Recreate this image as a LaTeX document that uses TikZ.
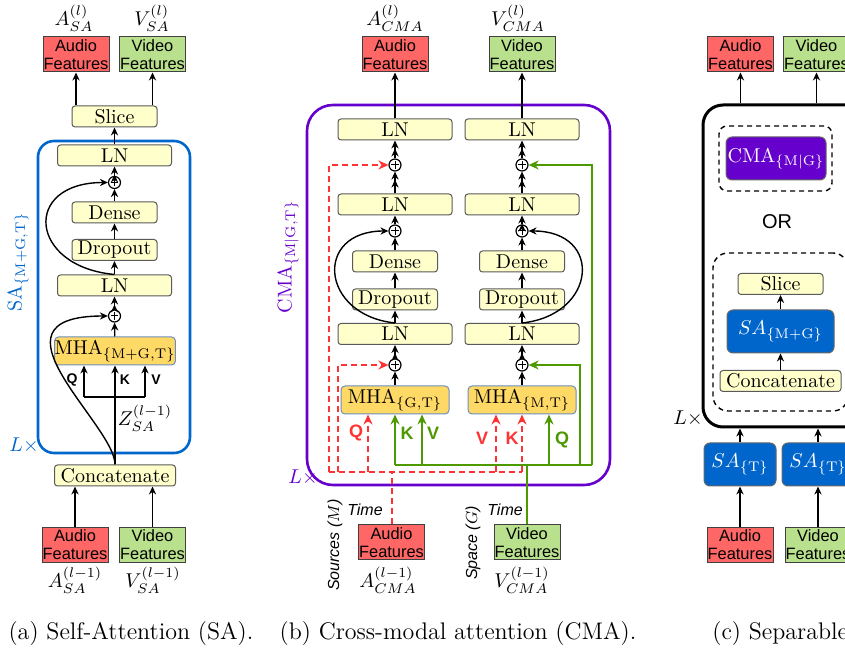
\documentclass[tikz,border=0pt]{standalone}
\usepackage{fontspec}
\usetikzlibrary{arrows.meta}

\newfontfamily\featfont{Liberation Sans}

\definecolor{audiored}{RGB}{255,102,102}
\definecolor{videogreen}{RGB}{185,224,140}
\definecolor{lightyellow}{RGB}{255,255,204}
\definecolor{mhaorange}{RGB}{255,217,102}
\definecolor{mhaborder}{RGB}{108,142,191}
\definecolor{sablue}{RGB}{0,102,204}
\definecolor{cmapurple}{RGB}{102,0,204}
\definecolor{linkgreen}{RGB}{77,153,0}
\definecolor{linkred}{RGB}{255,51,51}

\tikzset{
  featbox/.style={draw=black!75,line width=0.5pt,inner sep=0pt,minimum width=33pt,minimum height=17.5pt,
    align=center,font=\featfont\fontsize{8.2}{9}\selectfont},
  layerbox/.style={draw=black!65,line width=0.5pt,fill=lightyellow,rounded corners=1.5pt,inner sep=0pt,
    minimum width=42.5pt,minimum height=10.5pt},
  normbox/.style={layerbox,minimum width=57pt},
  catbox/.style={layerbox,minimum width=60.5pt},
  mhabox/.style={draw=mhaborder,line width=0.5pt,fill=mhaorange,rounded corners=2pt,inner sep=0pt,minimum height=14pt},
  sabox/.style={draw=black!60,line width=0.5pt,fill=sablue,text=white,rounded corners=3pt,inner sep=0pt,minimum height=21.5pt},
  addnode/.style={circle,draw,line width=0.6pt,minimum size=6pt,inner sep=0pt,
    path picture={\draw[line width=0.5pt]
      ([xshift=-1.8pt]path picture bounding box.center) -- ([xshift=1.8pt]path picture bounding box.center)
      ([yshift=-1.8pt]path picture bounding box.center) -- ([yshift=1.8pt]path picture bounding box.center);}},
  qkv/.style={font=\featfont\bfseries\fontsize{7}{8}\selectfont},
  bigqkv/.style={font=\featfont\bfseries\fontsize{9}{10}\selectfont},
  axislabel/.style={font=\featfont\itshape\fontsize{8}{9}\selectfont},
  greenlink/.style={linkgreen,line width=1.2pt,>={Stealth[length=5pt,width=4.5pt]}},
  redlink/.style={linkred,line width=1pt,dash pattern=on 3pt off 2pt,>={Stealth[length=5pt,width=4.5pt]}},
  optbox/.style={draw,line width=0.7pt,dash pattern=on 2.5pt off 2pt}
}

\begin{document}
\begin{tikzpicture}[x=0.5pt,y=-0.5pt,>={Stealth[length=4pt,width=3.6pt]},line width=0.7pt]
\useasboundingbox (0,0) rectangle (845,656);
\clip (0,0) rectangle (845,656);

% frames round the repeated blocks
\draw[sablue,line width=1.3pt,rounded corners=8pt] (38,141) rectangle (190,453);
\draw[cmapurple,line width=1.3pt,rounded corners=13pt] (307,105) rectangle (610,485);
\node[draw,line width=1.5pt,rounded corners=10pt,minimum width=83.5pt,minimum height=161pt] (sepbox) at (786.5,266) {};
\node[optbox,rounded corners=4pt,minimum width=56.5pt,minimum height=32.5pt] (cmaopt) at (775.5,158.5) {};
\node[optbox,rounded corners=7.5pt,minimum width=67.5pt,minimum height=79pt] (saopt) at (780.5,332) {};

% audio / video features
\foreach \x/\y/\n/\c/\t in {76/54.5/aoutSA/audiored/Audio, 152.5/54.5/voutSA/videogreen/Video,
    75/545/ainSA/audiored/Audio, 152.5/545/vinSA/videogreen/Video,
    395/54.5/aoutCMA/audiored/Audio, 522/54.5/voutCMA/videogreen/Video,
    391.5/542.5/ainCMA/audiored/Audio, 527/542.5/vinCMA/videogreen/Video,
    740.5/54.5/aoutSep/audiored/Audio, 816.5/54.5/voutSep/videogreen/Video,
    740/545/ainSep/audiored/Audio, 818/545/vinSep/videogreen/Video}
  \node[featbox,fill=\c] (\n) at (\x,\y) {\t\\Features};

% layers
\foreach \x/\y/\n/\t in {114.5/116.5/sliceSA/Slice, 114.5/212.5/denseSA/Dense, 114.5/250/dropSA/Dropout,
    395/261.5/denseA/Dense, 395/299.5/dropA/Dropout, 522/261.5/denseV/Dense, 522/299.5/dropV/Dropout,
    780.5/284/sliceSep/Slice}
  \node[layerbox] (\n) at (\x,\y) {\t};
\foreach \x/\y/\n in {114.5/155.5/lnSA2, 114.5/285.5/lnSA1, 395/129.5/lnA3, 395/204.5/lnA2, 395/334/lnA1,
    522/129.5/lnV3, 522/204.5/lnV2, 522/334/lnV1}
  \node[normbox] (\n) at (\x,\y) {LN};
\foreach \x/\y/\n in {115/475.5/concatSA, 780.5/381/concatSep}
  \node[catbox] (\n) at (\x,\y) {Concatenate};
\foreach \x/\y/\n in {114.5/182.5/addSA2, 114.5/316/addSA1, 395/165/addA3, 395/231/addA2, 395/365/addA1,
    522/165/addV3, 522/231/addV2, 522/365/addV1}
  \node[addnode] (\n) at (\x,\y) {};

\node[mhabox,minimum width=60pt] (mhaSA) at (115,351) {MHA$_{\{\mathrm{M+G,T}\}}$};
\node[mhabox,minimum width=54pt] (mhaA) at (395,400) {MHA$_{\{\mathrm{G,T}\}}$};
\node[mhabox,minimum width=54pt] (mhaV) at (522,400) {MHA$_{\{\mathrm{M,T}\}}$};

\node[sabox,fill=cmapurple,minimum width=50pt] (cmaSep) at (776,158.5) {CMA$_{\{\mathrm{M|G}\}}$};
\node[sabox,minimum width=53.5pt] (saMG) at (780.5,331.5) {$SA_{\{\mathrm{M+G}\}}$};
\foreach \x/\n in {740/saTA, 818/saTV}
  \node[sabox,minimum width=36pt] (\n) at (\x,464.5) {$SA_{\{\mathrm{T}\}}$};

% plain arrows
\foreach \s/\t in {lnSA2/sliceSA, denseSA/addSA2, dropSA/denseSA, lnSA1/dropSA, mhaSA/addSA1,
    lnA3/aoutCMA, addA2/lnA2, denseA/addA2, dropA/denseA, lnA1/dropA, mhaA/addA1,
    lnV3/voutCMA, denseV/addV2, dropV/denseV, lnV1/dropV, mhaV/addV1,
    concatSep/saMG, saMG/sliceSep, ainSep/saTA, vinSep/saTV}
  \draw[->] (\s) -- (\t);
\foreach \s/\t in {addSA2/lnSA2, addSA1/lnSA1, addA3/lnA3, lnA2/addA3, addA1/lnA1,
    addV3/lnV3, lnV2/addV3, addV2/lnV2, addV1/lnV1}
  \draw[->>] (\s) -- (\t);
\foreach \n in {aoutSA, voutSA}
  \draw[->] (sliceSA.north -| \n) -- (\n);
\foreach \n in {ainSA, vinSA}
  \draw[->] (\n) -- (\n |- concatSA.south);
\foreach \n in {aoutSep, voutSep}
  \draw[->] (sepbox.north -| \n) -- (\n);
\foreach \n in {saTA, saTV}
  \draw[->] (\n) -- (\n |- sepbox.south);

% residual connections
\draw[->] (lnSA1.north) .. controls +(-86,-8) and +(-86,0) .. (addSA2.west);
\draw[->] (concatSA.north) .. controls +(0,-40) and +(-130,0) .. (addSA1.west);
\draw[->] (lnA1.north) .. controls +(-75,-8) and +(-75,0) .. (addA2.west);
\draw[->] (lnV1.north) .. controls +(75,-8) and +(75,0) .. (addV2.east);

% self-attention inputs
\coordinate (qSA) at (84,397);
\coordinate (vSA) at (145,397);
\draw[->] (concatSA.north) -- (mhaSA.south);
\draw (qSA) -- (vSA);
\foreach \c in {qSA, vSA}
  \draw[->] (\c) -- (\c |- mhaSA.south);
\node[qkv] at (72,380) {Q};
\node[qkv] at (125,380) {K};
\node[qkv] at (156,380) {V};
\node at (145,418) {$Z_{SA}^{(l-1)}$};

% cross-modal inputs, audio side
\coordinate (rL) at (329,472);
\coordinate (rI) at (338,472);
\coordinate (rQ) at (368,472);
\coordinate (rV) at (496,472);
\coordinate (rK) at (522,472);
\draw[redlink] (ainCMA.north) -- (ainCMA.north |- rL);
\draw[redlink] (rL) -- (rK);
\foreach \c/\t in {rQ/mhaA, rV/mhaV, rK/mhaV}
  \draw[redlink,->] (\c) -- (\c |- \t.south);
\draw[redlink,->] (rL) |- (addA3.west);
\draw[redlink,->] (rI) |- (addA1.west);

% cross-modal inputs, video side
\coordinate (gK) at (395,465);
\coordinate (gV) at (422,465);
\coordinate (gQ) at (549,465);
\coordinate (gA) at (580,465);
\coordinate (gB) at (592,465);
\draw[greenlink] (vinCMA.north) -- (vinCMA.north |- gK);
\draw[greenlink] (gK) -- (gB);
\foreach \c/\t in {gK/mhaA, gV/mhaA, gQ/mhaV}
  \draw[greenlink,->] (\c) -- (\c |- \t.south);
\draw[greenlink,->] (gA) |- (addV1.east);
\draw[greenlink,->] (gB) |- (addV3.east);

\node[bigqkv,linkred] at (356,433) {Q};
\node[bigqkv,linkgreen] at (407,433) {K};
\node[bigqkv,linkgreen] at (433,433) {V};
\node[bigqkv,linkred] at (482,438) {V};
\node[bigqkv,linkred] at (512,438) {K};
\node[bigqkv,linkgreen] at (562,440) {Q};

% labels
\foreach \x/\y/\t in {74/18/A_{SA}^{(l)}, 152/18/V_{SA}^{(l)}, 75/580/A_{SA}^{(l-1)}, 153/580/V_{SA}^{(l-1)},
    395/18/A_{CMA}^{(l)}, 518/18/V_{CMA}^{(l)}, 388/580/A_{CMA}^{(l-1)}, 522/580/V_{CMA}^{(l-1)}}
  \node at (\x,\y) {$\t$};
\node[sablue,rotate=90] at (18,262) {SA$_{\{\mathrm{M+G,T}\}}$};
\node[sablue] at (24,446) {$L\times$};
\node[cmapurple,rotate=90] at (288,257) {CMA$_{\{\mathrm{M|G,T}\}}$};
\node[cmapurple] at (303,478) {$L\times$};
\node at (688,419) {$L\times$};
\node[font=\featfont\fontsize{10}{12}\selectfont] at (777,222) {OR};
\node[axislabel] at (365,510) {Time};
\node[axislabel] at (505,510) {Time};
\node[axislabel,rotate=90] at (335,545) {Sources ($M$)};
\node[axislabel,rotate=90] at (473,543) {Space ($G$)};

% sub-captions
\node[font=\fontsize{12}{14}\selectfont] at (131,634) {(a) Self-Attention (SA).};
\node[font=\fontsize{12}{14}\selectfont] at (458,634) {(b) Cross-modal attention (CMA).};
\node[font=\fontsize{12}{14}\selectfont,anchor=west] at (705,634) {(c) Separable};
\end{tikzpicture}
\end{document}
